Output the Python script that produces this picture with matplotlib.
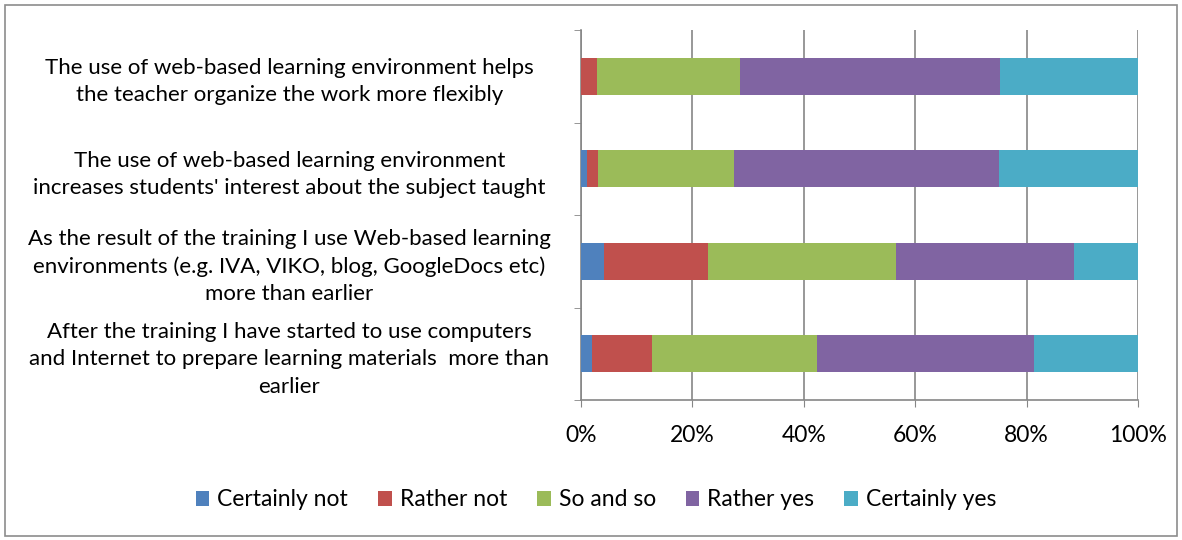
import numpy as np
import matplotlib.pyplot as plt
from matplotlib.patches import Rectangle

# DATA (percent of answers)
questions = [
    'After the training I have started to use computers\nand Internet to prepare learning materials  more than\nearlier',
    'As the result of the training I use Web-based learning\nenvironments (e.g. IVA, VIKO, blog, GoogleDocs etc)\nmore than earlier',
    "The use of web-based learning environment\nincreases students' interest about the subject taught",
    'The use of web-based learning environment helps\nthe teacher organize the work more flexibly',
]
answers = ['Certainly not', 'Rather not', 'So and so', 'Rather yes', 'Certainly yes']
certainly_not = [2.0, 4.1, 1.0, 0.0]
rather_not = [10.7, 18.7, 2.0, 2.8]
so_and_so = [29.6, 33.7, 24.4, 25.7]
rather_yes = [39.0, 32.0, 47.6, 46.7]
certainly_yes = [18.7, 11.5, 25.0, 24.8]
xtick_labels = ['0%', '20%', '40%', '60%', '80%', '100%']

colors = ['#4F81BD', '#C0504D', '#9BBB59', '#8064A2', '#4BACC6']
series = [certainly_not, rather_not, so_and_so, rather_yes, certainly_yes]

plt.rcParams['font.family'] = ['Lato', 'DejaVu Sans']
plt.rcParams['font.size'] = 16.5

fig = plt.figure(figsize=(11.82, 5.4), dpi=100)
ax = fig.add_axes([581 / 1182, 1 - 400 / 540, 557 / 1182, 370 / 540])

# outer frame of the chart
fig.patches.append(Rectangle((5 / 1182, 4 / 540), 1172 / 1182, 531 / 540,
                             transform=fig.transFigure, fill=False,
                             edgecolor='#8c8c8c', linewidth=1.2))

y = np.arange(len(questions))
left = np.zeros(len(questions))
for name, vals, c in zip(answers, series, colors):
    vals = np.array(vals)
    ax.barh(y, vals, left=left, height=0.4, color=c, label=name, zorder=3)
    left += vals

ax.set_xlim(0, 100)
ax.set_ylim(-0.5, len(questions) - 0.5)
ax.set_xticks(np.arange(0, 101, 20))
ax.set_xticklabels(xtick_labels)
ax.xaxis.grid(True, color='#868686', linewidth=1.2, zorder=0)

ax.set_yticks(y)
ax.set_yticklabels(questions, ha='center', multialignment='center',
                   linespacing=1.45, fontsize=16)
ax.set_yticks(np.arange(-0.5, len(questions)), minor=True)
ax.tick_params(axis='y', which='major', length=0, pad=210)
ax.tick_params(axis='y', which='minor', length=5, color='#868686')
ax.tick_params(axis='x', length=5, color='#868686', pad=13)

for s in ['top', 'right']:
    ax.spines[s].set_visible(False)
for s in ['left', 'bottom']:
    ax.spines[s].set_color('#868686')
    ax.spines[s].set_linewidth(1.2)

ax.legend(loc='center', bbox_to_anchor=(596 / 1182, 1 - 500 / 540),
          bbox_transform=fig.transFigure, ncol=5, frameon=False,
          handlelength=0.6, handleheight=0.6, handletextpad=0.35,
          columnspacing=1.3)

fig.savefig('out.png', dpi=100)
